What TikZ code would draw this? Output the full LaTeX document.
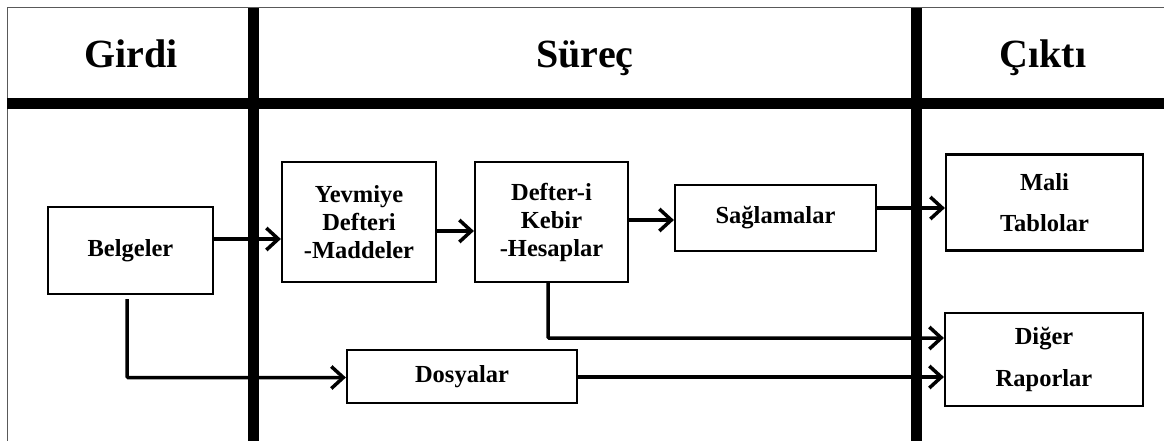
\documentclass[tikz,border=0pt]{standalone}
\usepackage{fontspec}
\setmainfont{Liberation Serif}
\usetikzlibrary{arrows.meta}
\begin{document}
\begin{tikzpicture}[x=1pt,y=-1pt,
  box/.style={draw,line width=2.2pt,align=center,inner sep=0pt,font=\bfseries\fontsize{24.5}{28}\selectfont},
  wide/.style={font=\bfseries\fontsize{24.5}{41.5}\selectfont},
  conn/.style={line width=3.5pt,-{Straight Barb[length=12pt,width=22pt]}},
  title/.style={font=\bfseries\fontsize{40}{48}\selectfont,anchor=base,inner sep=0pt},
  bar/.style={fill=black}]
\useasboundingbox (0,0) rectangle (1164,441);
% frame and bars
\draw[black!65,line width=1pt] (7,441) -- (7,8) -- (1164,8);
\fill[bar] (7,98) rectangle (1164,109);
\fill[bar] (248,8) rectangle (259,441);
\fill[bar] (911,8) rectangle (922,441);
% titles
\node[title] (tg) at (131,68) {Girdi};
\node[title] (ts) at (585,68) {Süreç};
\node[title] (tc) at (1043,68) {Çıktı};
% boxes
\node[box,minimum width=165pt,minimum height=87pt] (bel) at (130.5,250.5) {Belgeler};
\node[box,minimum width=154pt,minimum height=120pt] (yev) at (359,222) {Yevmiye\\Defteri\\-Maddeler};
\node[box,minimum width=153pt,minimum height=120pt] (def) at (551.5,222) {Defter-i\\Kebir\\-Hesaplar};
\node[box,minimum width=201pt,minimum height=66pt] (sag) at (775.5,218) {Sağlamalar};
\node[box,wide,minimum width=197pt,minimum height=96pt] (mal) at (1044.5,202.5) {Mali\\Tablolar};
\node[box,wide,minimum width=198pt,minimum height=93pt] (dig) at (1044,359.5) {Diğer\\Raporlar};
\node[box,minimum width=230pt,minimum height=53pt] (dos) at (462,376.5) {Dosyalar};
% connectors
\draw[conn] ([yshift=11.5pt]bel.east) -- ([yshift=-17pt]yev.west);
\draw[conn] ([yshift=-9pt]yev.east) -- ([yshift=-9pt]def.west);
\draw[conn] ([yshift=2pt]def.east) -- ([yshift=-2pt]sag.west);
\draw[conn] ([yshift=10pt]sag.east) -- ([yshift=-5.5pt]mal.west);
\draw[conn,rounded corners=1pt] ([xshift=-3.5pt]def.south) |- ([yshift=21.5pt]dig.west);
\draw[conn,rounded corners=1pt] ([xshift=-3.5pt,yshift=-4pt]bel.south) |- ([yshift=-1pt]dos.west);
\draw[conn] ([yshift=-0.5pt]dos.east) -- ([yshift=-17.5pt]dig.west);
\end{tikzpicture}
\end{document}
